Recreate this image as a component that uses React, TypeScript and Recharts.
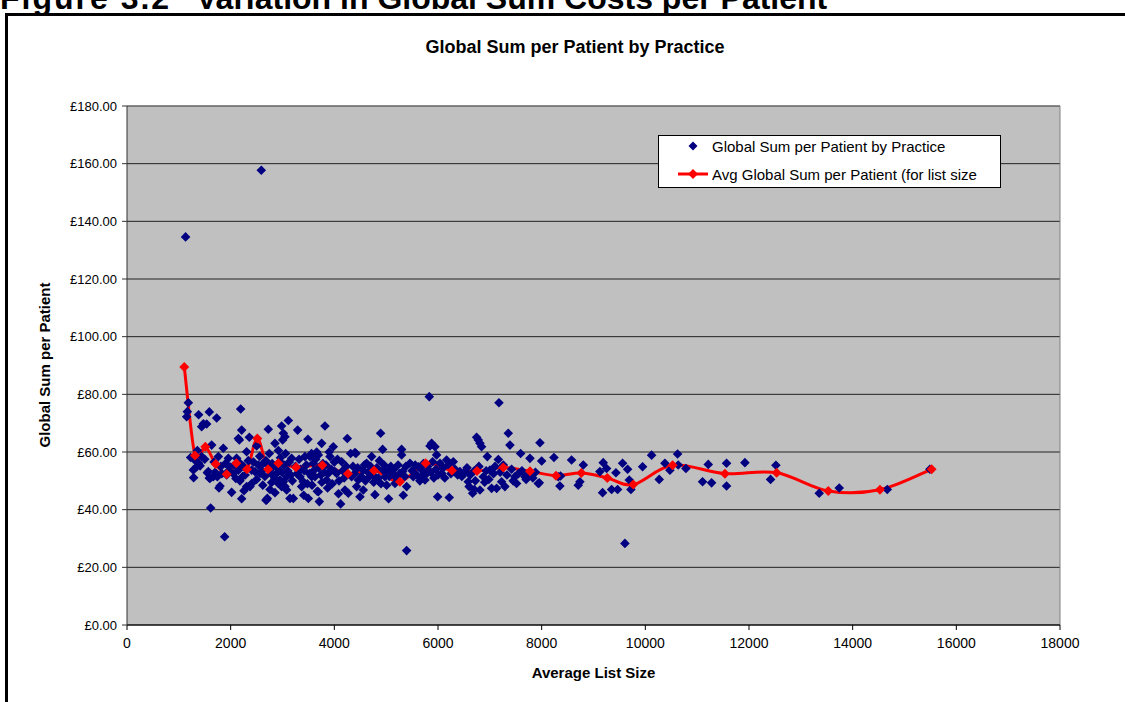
import React from "react";
import {
  ComposedChart,
  Scatter,
  Line,
  XAxis,
  YAxis,
  CartesianGrid,
  ReferenceLine,
  Label,
} from "recharts";

// Individual practices: [average list size, global sum per patient (£)]
const practices: [number, number][] = [
  [1130, 134.6], [2591, 157.7],
  [1183, 77.1], [1164, 74.0], [1151, 72.2], [1228, 58.1], [1286, 51.1], [1357, 60.5], [1344, 54.9],
  [1382, 56.1], [1382, 72.9], [1440, 68.8], [1473, 69.8], [1537, 69.7], [1588, 73.9], [1440, 58.4],
  [1550, 52.8], [1588, 51.0], [1633, 62.4], [1614, 40.6], [1665, 51.4], [1730, 71.8], [1762, 58.4],
  [1743, 51.4], [1794, 48.2], [1775, 47.5], [1858, 61.3], [1884, 30.6], [1955, 57.8], [2019, 46.0],
  [1987, 54.9], [1280, 53.8], [1320, 57.0], [1410, 55.2], [1500, 57.5], [1569, 53.2], [1600, 50.8],
  [1680, 56.5], [1700, 53.0], [1810, 55.0], [1830, 52.5], [1900, 56.0], [1923, 52.0], [1960, 53.5],
  [2193, 74.9], [2212, 67.6], [2148, 64.7], [2167, 64.2], [2308, 60.1], [2212, 43.8], [2257, 46.6],
  [2308, 48.0], [2360, 65.1], [2405, 49.1], [2180, 50.0], [2148, 53.7], [2115, 57.8], [2405, 53.7],
  [2469, 53.2], [2501, 62.1], [2565, 52.6], [2630, 56.1], [2681, 43.3], [2707, 43.9], [2726, 67.9],
  [2745, 59.5], [2758, 47.0], [2790, 49.4], [2823, 54.9], [2855, 63.0], [2855, 45.9], [2951, 56.6],
  [2983, 69.0], [3003, 64.2], [3016, 66.5], [3048, 65.3], [3112, 70.9], [3144, 43.9], [3176, 57.8],
  [2951, 50.3], [2983, 48.0], [3048, 48.0], [3080, 51.4], [3016, 49.7], [2887, 52.6], [2919, 49.1],
  [2180, 56.1], [2250, 55.0], [2280, 52.0], [2340, 57.0], [2373, 48.0], [2440, 56.5], [2534, 55.5],
  [2600, 53.5], [2694, 43.4], [2660, 51.5], [2720, 55.5], [2780, 52.5], [2850, 51.0], [2900, 54.5],
  [2960, 58.0], [2990, 53.0], [3030, 55.5], [3080, 46.8], [3100, 53.5], [3130, 56.5], [3160, 52.0],
  [3190, 50.0], [2070, 55.5], [2050, 52.5], [2100, 50.8], [2230, 51.5], [2500, 50.5], [2560, 58.5],
  [2620, 48.5], [2680, 57.0], [2800, 56.0], [2920, 60.5], [3060, 59.5],
  [3292, 67.6], [3337, 51.4], [3369, 48.0], [3401, 49.7], [3433, 58.4], [3491, 64.4], [3498, 43.9],
  [3530, 58.4], [3562, 51.4], [3594, 56.1], [3626, 51.4], [3671, 46.4], [3691, 59.0], [3710, 42.8],
  [3755, 63.0], [3819, 69.0], [3851, 50.3], [3916, 58.4], [3980, 61.8], [4012, 53.2], [4044, 52.6],
  [4121, 42.0], [4141, 56.6], [4205, 46.8], [4250, 64.7], [4269, 45.7], [3208, 43.9], [3691, 46.2],
  [3250, 55.0], [3280, 52.5], [3320, 57.5], [3350, 54.0], [3420, 53.5], [3460, 55.5], [3520, 52.5],
  [3560, 59.5], [3600, 53.5], [3640, 57.5], [3660, 60.0], [3700, 54.5], [3740, 52.0], [3780, 56.0],
  [3800, 53.0], [3840, 55.5], [3880, 52.5], [3900, 60.0], [3940, 54.0], [3960, 49.0], [4000, 56.5],
  [4060, 57.5], [4090, 50.0], [4160, 53.5], [4190, 51.0], [4230, 55.0], [3410, 45.0], [3480, 49.0],
  [3570, 48.5], [3760, 49.5], [3870, 47.5], [4080, 45.5],
  [4314, 59.5], [4334, 51.4], [4417, 59.5], [4430, 48.0], [4462, 50.3], [4494, 44.5], [4559, 46.8],
  [4559, 53.7], [4623, 56.1], [4720, 58.4], [4784, 45.2], [4893, 66.5], [4932, 60.9], [4945, 53.7],
  [4977, 51.4], [5009, 48.5], [5047, 43.8], [5124, 52.6], [5170, 49.1], [5298, 60.9], [5298, 59.0],
  [5318, 53.2], [5330, 45.0], [5395, 48.0], [5395, 25.8], [4398, 59.8], [4360, 55.0], [4390, 52.5],
  [4450, 54.5], [4520, 51.5], [4580, 55.5], [4600, 50.0], [4650, 53.0], [4680, 51.5], [4700, 55.0],
  [4750, 52.0], [4760, 49.5], [4820, 54.5], [4850, 51.0], [4870, 57.0], [4900, 49.0], [4960, 55.5],
  [5030, 53.5], [5060, 51.5], [5090, 55.0], [5150, 54.0], [5200, 51.0], [5230, 55.5], [5260, 52.5],
  [5360, 51.5], [5380, 55.0],
  [5459, 56.1], [5523, 51.4], [5620, 54.9], [5684, 51.4], [5748, 50.3], [5832, 79.2], [5845, 62.1],
  [5877, 63.0], [5896, 56.6], [5941, 61.8], [5973, 59.0], [5993, 44.5], [6038, 56.1], [6070, 52.6],
  [6166, 57.2], [6217, 44.2], [6295, 56.6], [6423, 53.2], [6520, 53.2], [6584, 49.7], [6668, 45.7],
  [6745, 65.1], [6777, 64.2], [6809, 63.0], [6809, 46.8], [6841, 61.8], [6874, 51.4], [6951, 58.4],
  [5500, 53.5], [5560, 55.5], [5590, 52.0], [5650, 50.0], [5700, 53.5], [5720, 56.0], [5780, 52.5],
  [5800, 55.0], [5860, 53.0], [5920, 51.0], [5960, 54.0], [6000, 52.0], [6100, 54.5], [6130, 51.0],
  [6200, 55.5], [6250, 52.5], [6330, 54.0], [6380, 52.0], [6460, 51.5], [6560, 54.5], [6620, 52.0],
  [6700, 53.5], [6720, 50.0], [6790, 55.0], [6900, 49.5], [6930, 53.5], [6980, 50.5], [6600, 48.0],
  [6700, 47.0],
  [7002, 53.7], [7034, 47.4], [7131, 47.4], [7163, 57.4], [7176, 77.1], [7227, 49.7], [7291, 48.0],
  [7356, 66.5], [7388, 62.4], [7484, 51.4], [7516, 49.1], [7594, 59.5], [7677, 51.4], [7774, 57.8],
  [7935, 49.1], [7967, 63.2], [8000, 56.9], [7070, 52.5], [7100, 55.0], [7200, 53.0], [7260, 55.5],
  [7330, 52.0], [7420, 54.0], [7450, 50.0], [7550, 52.5], [7620, 53.5], [7700, 50.5], [7750, 52.5],
  [7830, 51.0], [7880, 53.0], [7954, 49.3], [8237, 58.1], [8352, 48.2], [8320, 51.4], [8365, 51.7],
  [8577, 57.2], [8706, 48.5], [8738, 49.7], [8803, 55.5], [9124, 53.2], [9175, 45.9], [9188, 56.3],
  [9253, 54.3], [9349, 47.0], [9433, 52.8], [9465, 47.0], [9561, 56.1], [9606, 28.3], [9658, 54.0],
  [9690, 50.3], [9722, 47.0], [9947, 54.9], [10121, 58.9], [10268, 50.5], [10378, 56.1], [10474, 53.7],
  [10622, 59.3], [10635, 55.5], [10783, 54.3], [11104, 49.7], [11214, 55.7], [11278, 49.3],
  [11567, 56.1], [11567, 48.2], [11921, 56.3], [12416, 50.5], [12519, 55.4], [13355, 45.7],
  [13741, 47.5], [14667, 47.0], [15490, 54.0],
];

// Banded averages: list size band midpoint and mean global sum per patient
const avgListSizes = [
  1105, 1312, 1511, 1711, 1923, 2109, 2315, 2514, 2720, 2919, 3260, 3768, 4263, 4765, 5266,
  5762, 6269, 6752, 7260, 7775, 8276, 8765, 9266, 9767, 10527, 11536, 12533, 13529, 14526, 15523,
];
const avgSumPerPatient = [
  89.5, 58.8, 61.8, 55.8, 52.3, 56.1, 54.0, 64.7, 54.0, 56.1, 54.7, 55.4, 52.5, 53.6, 49.7,
  56.1, 53.6, 53.4, 54.6, 53.3, 51.8, 52.7, 51.0, 48.7, 55.4, 52.5, 52.8, 46.5, 46.9, 54.0,
];

const xTicks = [0, 2000, 4000, 6000, 8000, 10000, 12000, 14000, 16000, 18000];
const yTicks = [0, 20, 40, 60, 80, 100, 120, 140, 160, 180];

const practiceData = practices.map(([x, y]) => ({ x, y }));
const avgData = avgListSizes.map((x, i) => ({ x, y: avgSumPerPatient[i] }));

const FONT = '"Liberation Sans", Arial, Helvetica, sans-serif';
const NAVY = "#000080";
const RED = "#FF0000";

// Smoothed line through every point (Catmull-Rom style Bezier segments)
function smoothCurve(context: any) {
  let pts: [number, number][] = [];
  return {
    areaStart() {},
    areaEnd() {},
    lineStart() {
      pts = [];
    },
    lineEnd() {
      if (!pts.length) return;
      context.moveTo(pts[0][0], pts[0][1]);
      for (let i = 0; i < pts.length - 1; i++) {
        const p0 = pts[i - 1] || pts[i];
        const p1 = pts[i];
        const p2 = pts[i + 1];
        const p3 = pts[i + 2] || p2;
        const c1x = p1[0] + (p2[0] - p0[0]) / 6;
        const c1y = p1[1] + (p2[1] - p0[1]) / 6;
        const c2x = p2[0] - (p3[0] - p1[0]) / 6;
        const c2y = p2[1] - (p3[1] - p1[1]) / 6;
        context.bezierCurveTo(c1x, c1y, c2x, c2y, p2[0], p2[1]);
      }
    },
    point(x: number, y: number) {
      pts.push([+x, +y]);
    },
  };
}

const diamond = (cx: number, cy: number, r: number) =>
  `${cx},${cy - r} ${cx + r},${cy} ${cx},${cy + r} ${cx - r},${cy}`;

const PracticeMarker = (props: any) => {
  const { cx, cy } = props;
  if (cx == null || cy == null) return null;
  return <polygon points={diamond(cx, cy, 4.8)} fill={NAVY} />;
};

const AvgMarker = (props: any) => {
  const { cx, cy, index } = props;
  if (cx == null || cy == null) return <g key={`d${index}`} />;
  return <polygon key={`d${index}`} points={diamond(cx, cy, 5)} fill={RED} />;
};

const fmtPound = (v: number) => `£${v.toFixed(2)}`;

export default function App() {
  return (
    <div
      style={{
        position: "fixed",
        left: 0,
        top: 0,
        width: 1125,
        height: 702,
        overflow: "hidden",
        background: "#fff",
        fontFamily: FONT,
      }}
    >
      <div
        style={{
          position: "absolute",
          left: 0,
          top: -18,
          whiteSpace: "pre",
          fontWeight: "bold",
          fontSize: 32,
          lineHeight: "32px",
          color: "#000",
        }}
      >
        <span style={{ position: "absolute", left: 0, letterSpacing: 2 }}>Figure 3.2</span>
        <span style={{ position: "absolute", left: 196 }}>
          Variation in Global Sum Costs per Patient
        </span>
      </div>
      <div
        style={{
          position: "absolute",
          left: 5,
          top: 13,
          width: 1300,
          height: 900,
          border: "3px solid #000",
          boxSizing: "border-box",
        }}
      />
      <div
        style={{
          position: "absolute",
          left: 0,
          top: 37,
          width: 1150,
          textAlign: "center",
          fontWeight: "bold",
          fontSize: 18,
          color: "#000",
        }}
      >
        Global Sum per Patient by Practice
      </div>

      <div style={{ position: "absolute", left: 0, top: 0 }}>
        <ComposedChart
          width={1125}
          height={702}
          margin={{ top: 106, right: 65, left: 47, bottom: 37 }}
        >
          <CartesianGrid
            vertical={false}
            stroke="#222"
            strokeWidth={1}
            fill="#C0C0C0"
            fillOpacity={1}
          />
          <XAxis
            type="number"
            dataKey="x"
            domain={[0, 18000]}
            ticks={xTicks}
            interval={0}
            height={40}
            allowDataOverflow
            tickSize={5}
            tickMargin={8}
            stroke="#000"
            tick={{ fill: "#000", fontSize: 14, fontFamily: FONT }}
          >
            <Label
              value="Average List Size"
              position="bottom"
              offset={2}
              style={{ fontWeight: "bold", fontSize: 15, fontFamily: FONT, fill: "#000" }}
            />
          </XAxis>
          <YAxis
            type="number"
            dataKey="y"
            domain={[0, 180]}
            ticks={yTicks}
            interval={0}
            width={80}
            allowDataOverflow
            tickSize={5}
            tickMargin={5}
            stroke="#333"
            tickFormatter={fmtPound}
            tick={{ fill: "#000", fontSize: 13, fontFamily: FONT }}
          >
            <Label
              content={() => (
                <text
                  x={50}
                  y={365}
                  transform="rotate(-90 50 365)"
                  textAnchor="middle"
                  style={{ fontWeight: "bold", fontSize: 15, fontFamily: FONT, fill: "#000" }}
                >
                  Global Sum per Patient
                </text>
              )}
            />
          </YAxis>
          <ReferenceLine y={180} stroke="#808080" strokeWidth={1} />
          <ReferenceLine x={18000} stroke="#808080" strokeWidth={1} />
          <Scatter
            name="Global Sum per Patient by Practice"
            data={practiceData}
            dataKey="y"
            shape={PracticeMarker}
            isAnimationActive={false}
          />
          <Line
            name="Avg Global Sum per Patient (for list size"
            data={avgData}
            dataKey="y"
            type={smoothCurve as any}
            stroke={RED}
            strokeWidth={3}
            dot={AvgMarker}
            activeDot={false}
            isAnimationActive={false}
          />
        </ComposedChart>
      </div>

      {/* Legend box */}
      <div
        style={{
          position: "absolute",
          left: 658,
          top: 135,
          width: 343,
          height: 53,
          boxSizing: "border-box",
          border: "1px solid #000",
          background: "#fff",
          overflow: "hidden",
          fontSize: 15,
          lineHeight: "17px",
          color: "#000",
        }}
      >
        <svg
          width={60}
          height={53}
          style={{ position: "absolute", left: 0, top: 0 }}
        >
          <polygon points={diamond(34, 10, 4.5)} fill={NAVY} />
          <line x1={19} y1={38} x2={49} y2={38} stroke={RED} strokeWidth={3} />
          <polygon points={diamond(34, 38, 5)} fill={RED} />
        </svg>
        <div style={{ position: "absolute", left: 53, top: 2, whiteSpace: "nowrap" }}>
          Global Sum per Patient by Practice
        </div>
        <div style={{ position: "absolute", left: 53, top: 30, whiteSpace: "nowrap" }}>
          Avg Global Sum per Patient (for list size
        </div>
      </div>
    </div>
  );
}
